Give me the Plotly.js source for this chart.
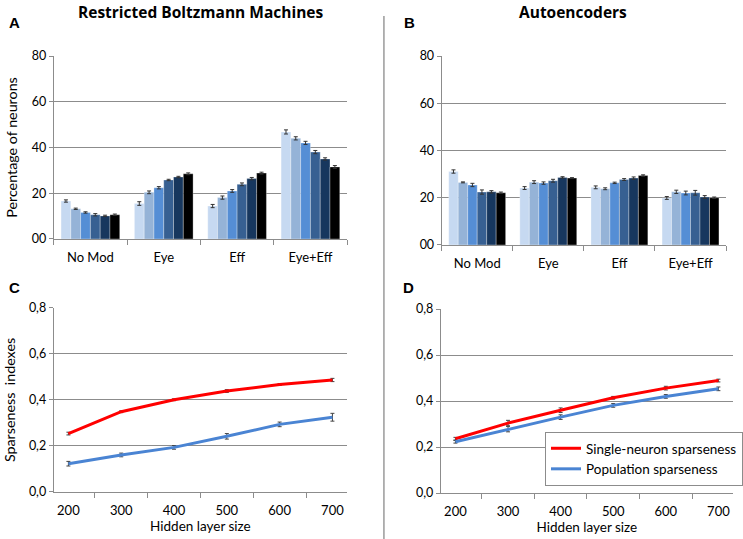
<!DOCTYPE html>
<html>
<head>
<meta charset="utf-8">
<script src="https://cdn.plot.ly/plotly-3.0.1.min.js"></script>
<style>
  html, body { margin: 0; padding: 0; background: #fff; }
  #fig { width: 743px; height: 539px; }
</style>
</head>
<body>
<div id="fig"></div>
<script>
// categories and series
var conditions = ['No Mod', 'Eye', 'Eff', 'Eye+Eff'];
var hiddenSizes = ['200', '300', '400', '500', '600', '700'];

// percentage of neurons, one row per hidden layer size (bars A)
var rbmPct = [
  [16.6, 15.5, 14.4, 46.8],
  [13.2, 20.4, 18.1, 44.0],
  [11.6, 22.4, 21.0, 42.0],
  [10.6, 25.8, 23.9, 38.0],
  [10.1, 27.1, 26.4, 35.0],
  [10.6, 28.5, 28.8, 31.5]
];
var rbmErr = [
  [0.5, 0.8, 0.7, 0.9],
  [0.3, 0.6, 0.7, 0.7],
  [0.3, 0.5, 0.6, 0.7],
  [0.5, 0.3, 0.6, 0.7],
  [0.3, 0.3, 0.5, 0.5],
  [0.3, 0.4, 0.4, 0.6]
];
// bars B
var aePct = [
  [31.1, 24.1, 24.4, 19.9],
  [26.5, 26.6, 23.8, 22.5],
  [25.4, 26.2, 26.3, 22.0],
  [22.4, 27.2, 27.7, 22.1],
  [22.5, 28.6, 28.3, 20.3],
  [22.1, 28.3, 29.4, 20.0]
];
var aeErr = [
  [0.7, 0.6, 0.6, 0.6],
  [0.2, 0.6, 0.4, 0.7],
  [0.7, 0.5, 0.3, 0.8],
  [0.9, 0.6, 0.4, 1.0],
  [0.5, 0.3, 0.5, 0.6],
  [0.3, 0.2, 0.3, 0.3]
];

// sparseness indexes (C = RBM, D = autoencoders)
var rbmSingle = [0.254, 0.349, 0.401, 0.439, 0.467, 0.487];
var rbmSingleErr = [0.006, 0.004, 0.004, 0.006, 0.004, 0.007];
var rbmPop = [0.123, 0.161, 0.194, 0.242, 0.294, 0.325];
var rbmPopErr = [0.010, 0.008, 0.008, 0.012, 0.010, 0.017];
var aeSingle = [0.236, 0.304, 0.360, 0.414, 0.456, 0.489];
var aeSingleErr = [0.006, 0.012, 0.010, 0.006, 0.008, 0.006];
var aePop = [0.223, 0.278, 0.330, 0.381, 0.420, 0.453];
var aePopErr = [0.006, 0.012, 0.010, 0.008, 0.008, 0.008];

// tick labels
var pctTicks = [0, 20, 40, 60, 80];
var pctTickText = ['00', '20', '40', '60', '80'];
var sparseTicks = [0, 0.2, 0.4, 0.6, 0.8];
var sparseTickText = ['0,0', '0,2', '0,4', '0,6', '0,8'];

var barColors = ['#c6d9f1', '#95b3d7', '#558ed5', '#376092', '#17375e', '#000000'];
var FONT = 'Lato, "Open Sans", sans-serif';
var TITLE_FONT = '"Open Sans", Lato, sans-serif';

var data = [];
function addBars(values, errs, xa, ya) {
  for (var i = 0; i < hiddenSizes.length; i++) {
    data.push({
      type: 'bar', x: conditions, y: values[i], name: hiddenSizes[i],
      xaxis: xa, yaxis: ya, showlegend: false,
      marker: {color: barColors[i], line: {color: 'rgba(255,255,255,0.6)', width: 0.5}},
      error_y: {type: 'data', array: errs[i], color: '#333', thickness: 1, width: 2}
    });
  }
}
addBars(rbmPct, rbmErr, 'x', 'y');
addBars(aePct, aeErr, 'x2', 'y2');

function addLine(values, errs, color, name, xa, ya, legend) {
  data.push({
    type: 'scatter', mode: 'lines', x: hiddenSizes, y: values, name: name,
    xaxis: xa, yaxis: ya, showlegend: legend,
    line: {color: color, width: 3},
    error_y: {type: 'data', array: errs, color: '#444', thickness: 1, width: 2}
  });
}
addLine(rbmSingle, rbmSingleErr, '#ff0000', 'Single-neuron sparseness', 'x3', 'y3', false);
addLine(rbmPop, rbmPopErr, '#4a84d3', 'Population sparseness', 'x3', 'y3', false);
addLine(aeSingle, aeSingleErr, '#ff0000', 'Single-neuron sparseness', 'x4', 'y4', true);
addLine(aePop, aePopErr, '#4a84d3', 'Population sparseness', 'x4', 'y4', true);

function xCat(domain, anchor) {
  return {
    domain: domain, anchor: anchor, type: 'category',
    showline: true, linecolor: '#8c8c8c', linewidth: 1,
    ticks: 'outside', tickson: 'boundaries', ticklen: 5, tickcolor: '#8c8c8c',
    ticklabelstandoff: 6, automargin: false,
    showgrid: false, zeroline: false, fixedrange: true,
    tickfont: {family: FONT, size: 13, color: '#000'}
  };
}
function yVal(domain, anchor, range, tv, tt) {
  return {
    domain: domain, anchor: anchor, range: range, automargin: false,
    tickmode: 'array', tickvals: tv, ticktext: tt,
    showline: true, linecolor: '#8c8c8c', linewidth: 1,
    ticks: 'outside', ticklen: 4, tickcolor: '#8c8c8c',
    showgrid: true, gridcolor: '#8c8c8c', gridwidth: 1, zeroline: false,
    tickfont: {family: FONT, size: 12.5, color: '#000'}
  };
}

var xa = xCat([0.0727, 0.4697], 'y');
var ya = yVal([0.5566, 0.8961], 'x', [0, 80], pctTicks, pctTickText);
ya.title = {text: 'Percentage of neurons', font: {family: FONT, size: 14.3, color: '#000'}, standoff: 10};
var xb = xCat([0.5976, 0.9825], 'y2');
var yb = yVal([0.5455, 0.8961], 'x2', [0, 80], pctTicks, pctTickText);
var xc = xCat([0.0727, 0.4697], 'y3');
xc.title = {text: 'Hidden layer size', font: {family: FONT, size: 13.5, color: '#000'}, standoff: 3};
var yc = yVal([0.0872, 0.4286], 'x3', [0, 0.8], sparseTicks, sparseTickText);
yc.title = {text: 'Sparseness  indexes', font: {family: FONT, size: 14.3, color: '#000'}, standoff: 9};
var xd = xCat([0.5965, 0.9919], 'y4');
xd.title = {text: 'Hidden layer size', font: {family: FONT, size: 13.5, color: '#000'}, standoff: 3};
var yd = yVal([0.0853, 0.4267], 'x4', [0, 0.8], sparseTicks, sparseTickText);

function label(txt, x, y, size, fam) {
  return {text: txt, xref: 'paper', yref: 'paper', x: x, y: y,
    xanchor: 'center', yanchor: 'middle', showarrow: false,
    font: {family: fam || FONT, size: size, color: '#000'}};
}

var layout = {
  width: 743, height: 539,
  margin: {l: 0, r: 0, t: 0, b: 0},
  paper_bgcolor: '#fff', plot_bgcolor: '#fff',
  barmode: 'group', bargap: 0.2, bargroupgap: 0,
  font: {family: FONT, color: '#000'},
  xaxis: xa, yaxis: ya, xaxis2: xb, yaxis2: yb,
  xaxis3: xc, yaxis3: yc, xaxis4: xd, yaxis4: yd,
  legend: {
    x: 548 / 743, y: 1 - 432 / 539, xanchor: 'left', yanchor: 'top',
    bgcolor: '#fff', bordercolor: '#8c8c8c', borderwidth: 1,
    font: {family: FONT, size: 13.5, color: '#000'},
    tracegroupgap: 0, itemwidth: 30
  },
  annotations: [
    label('<b>Restricted Boltzmann Machines</b>', 202 / 743, 1 - 12 / 539, 15.5, TITLE_FONT),
    label('<b>Autoencoders</b>', 576 / 743, 1 - 12 / 539, 15.5, TITLE_FONT),
    label('<b>A</b>', 15 / 743, 1 - 23 / 539, 15, 'Liberation Sans, Arial, sans-serif'),
    label('<b>B</b>', 412 / 743, 1 - 23 / 539, 15, 'Liberation Sans, Arial, sans-serif'),
    label('<b>C</b>', 15 / 743, 1 - 287 / 539, 15, 'Liberation Sans, Arial, sans-serif'),
    label('<b>D</b>', 411 / 743, 1 - 287 / 539, 15, 'Liberation Sans, Arial, sans-serif')
  ],
  shapes: [{
    type: 'line', xref: 'paper', yref: 'paper',
    x0: 386 / 743, x1: 386 / 743, y0: 0, y1: 1 - 16 / 539,
    line: {color: '#9a9a9a', width: 1.5}
  }]
};

Plotly.newPlot('fig', data, layout, {displayModeBar: false, staticPlot: true});
</script>
</body>
</html>
